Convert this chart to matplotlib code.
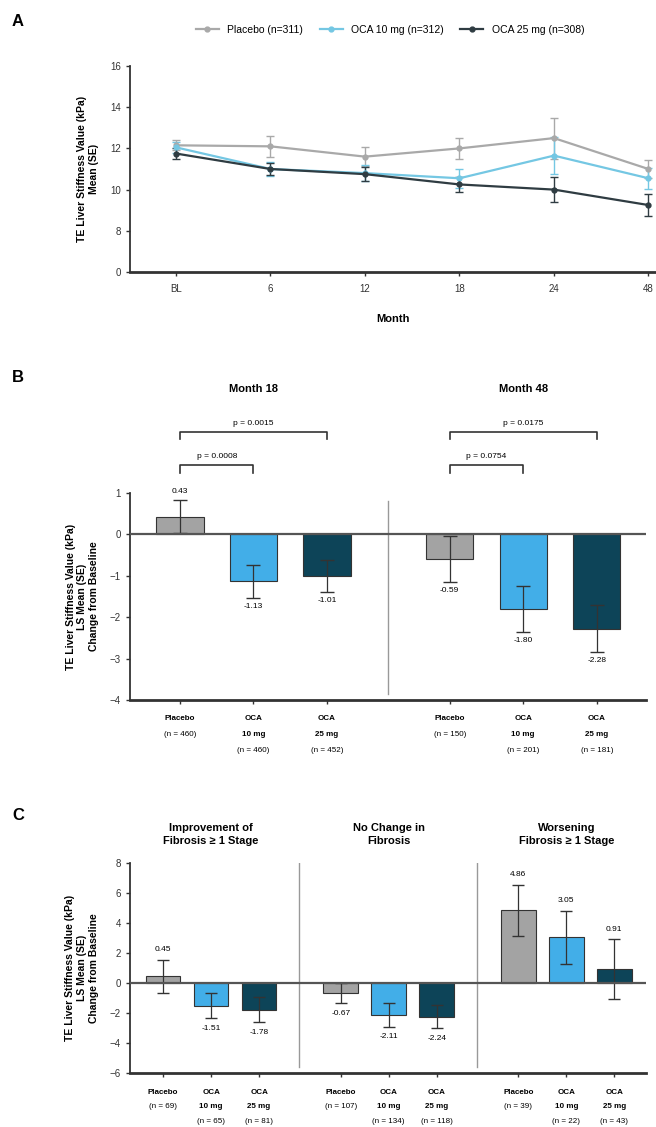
import numpy as np
import matplotlib
matplotlib.use('Agg')
import matplotlib.pyplot as plt
from matplotlib.lines import Line2D

plt.rcParams['font.family'] = ['Liberation Sans', 'DejaVu Sans']

# ---------------- data ----------------
# Panel A
months = ['BL', '6', '12', '18', '24', '48']
series_a = ['Placebo (n=311)', 'OCA 10 mg (n=312)', 'OCA 25 mg (n=308)']
placebo_mean = [12.15, 12.1, 11.6, 12.0, 12.5, 11.0]
placebo_se = [0.25, 0.5, 0.45, 0.5, 1.0, 0.45]
oca10_mean = [12.05, 11.0, 10.8, 10.55, 11.65, 10.55]
oca10_se = [0.25, 0.35, 0.4, 0.45, 0.9, 0.5]
oca25_mean = [11.75, 11.0, 10.75, 10.25, 10.0, 9.25]
oca25_se = [0.25, 0.3, 0.35, 0.35, 0.6, 0.55]

# Panel B
b_groups = ['Month 18', 'Month 48']
b_names = ['Placebo', 'OCA\n10 mg', 'OCA\n25 mg', 'Placebo', 'OCA\n10 mg', 'OCA\n25 mg']
b_n = ['(n = 460)', '(n = 460)', '(n = 452)', '(n = 150)', '(n = 201)', '(n = 181)']
b_values = [0.43, -1.13, -1.01, -0.59, -1.80, -2.28]
b_se = [0.39, 0.40, 0.38, 0.55, 0.56, 0.57]
b_pvals = ['p = 0.0015', 'p = 0.0008', 'p = 0.0175', 'p = 0.0754']

# Panel C
c_groups = ['Improvement of\nFibrosis \u2265 1 Stage', 'No Change in\nFibrosis',
            'Worsening\nFibrosis \u2265 1 Stage']
c_names = ['Placebo', 'OCA\n10 mg', 'OCA\n25 mg'] * 3
c_n = ['(n = 69)', '(n = 65)', '(n = 81)', '(n = 107)', '(n = 134)', '(n = 118)',
       '(n = 39)', '(n = 22)', '(n = 43)']
c_values = [0.45, -1.51, -1.78, -0.67, -2.11, -2.24, 4.86, 3.05, 0.91]
c_se = [1.1, 0.85, 0.85, 0.65, 0.8, 0.75, 1.7, 1.75, 2.0]

# ---------------- style ----------------
col_pl = '#a3a3a3'
col_10 = '#42aee8'
col_25 = '#0d4458'
line_cols = ['#a9a9a9', '#74c7e3', '#2f3c42']
bar_cols = [col_pl, col_10, col_25]

W, H = 656, 1127
fig = plt.figure(figsize=(W / 100, H / 100), dpi=100)


def frac(x0, y0, x1, y1):
    return [x0 / W, 1 - y1 / H, (x1 - x0) / W, (y1 - y0) / H]


def style_axes(ax):
    for s in ['top', 'right']:
        ax.spines[s].set_visible(False)
    ax.spines['left'].set_linewidth(1.3)
    ax.spines['bottom'].set_linewidth(2.0)
    ax.spines['left'].set_color('#333333')
    ax.spines['bottom'].set_color('#333333')
    ax.tick_params(axis='both', labelsize=7, width=1.0, length=3, colors='#333333')


# ---------------- Panel A ----------------
axA = fig.add_axes(frac(130, 66, 656, 272))
style_axes(axA)


def fwd(v):
    v = np.asarray(v, dtype=float)
    return np.where(v < 8, v / 4.0, v - 6.0)


def inv(p):
    p = np.asarray(p, dtype=float)
    return np.where(p < 2, p * 4.0, p + 6.0)


axA.set_yscale('function', functions=(fwd, inv))
xa = np.arange(len(months))
for mean, se, c, lab in zip([placebo_mean, oca10_mean, oca25_mean],
                            [placebo_se, oca10_se, oca25_se], line_cols, series_a):
    axA.errorbar(xa, mean, yerr=se, color=c, lw=1.6, marker='o', ms=3.5,
                 capsize=3, elinewidth=1.0, label=lab)
axA.set_ylim(0, 16)
axA.set_yticks([0, 8, 10, 12, 14, 16])
axA.set_yticklabels(['0', '8', '10', '12', '14', '16'])
axA.set_xlim(-0.487, 5.08)
axA.set_xticks(xa)
axA.set_xticklabels(months)
axA.tick_params(axis='x', pad=6)
axA.set_xlabel('Month', fontsize=8, fontweight='bold', labelpad=14)
axA.set_ylabel('TE Liver Stiffness Value (kPa)\nMean (SE)', fontsize=7.5,
               fontweight='bold', labelpad=8)
handles = [Line2D([0], [0], color=c, lw=1.6, marker='o', ms=3.5) for c in line_cols]
fig.legend(handles, series_a, loc='center', bbox_to_anchor=(390 / W, 1 - 30 / H),
           ncol=3, frameon=False, fontsize=7.5, handlelength=2.2, columnspacing=1.6)
fig.text(12 / W, 1 - 22 / H, 'A', fontsize=12, fontweight='bold', va='center')

# ---------------- Panel B ----------------
axB = fig.add_axes(frac(130, 493, 646, 700))
style_axes(axB)
xb = np.array([0, 1, 2, 3.67, 4.67, 5.67])
axB.bar(xb, b_values, width=0.64, color=bar_cols * 2, edgecolor='#333333', lw=0.8,
        zorder=2)
axB.errorbar(xb, b_values, yerr=b_se, fmt='none', ecolor='#333333', elinewidth=0.9,
             capsize=5, zorder=3)
axB.axhline(0, color='#555555', lw=1.6, zorder=4)
axB.set_ylim(-4, 1)
axB.set_yticks([-4, -3, -2, -1, 0, 1])
axB.set_xlim(-0.68, 6.34)
axB.set_xticks(xb)
axB.set_xticklabels([])
axB.axvline(2.83, ymin=0.03, ymax=(0.8 + 4) / 5, color='#999999', lw=1.0)
for x, v, s in zip(xb, b_values, b_se):
    if v >= 0:
        axB.text(x, v + s + 0.12, f'{v:.2f}', ha='center', va='bottom', fontsize=6)
    else:
        axB.text(x, v - s - 0.12, f'{v:.2f}', ha='center', va='top', fontsize=6)
for x, nm, n in zip(xb, b_names, b_n):
    lines = nm.split('\n') + [n]
    for i, t in enumerate(lines):
        axB.annotate(t, xy=(x, 0), xycoords=('data', 'axes fraction'),
                     xytext=(0, -13 - 11.5 * i), textcoords='offset points',
                     ha='center', va='center', fontsize=5.8,
                     fontweight='normal' if t.startswith('(') else 'bold')
# group titles
for gx, g in zip([xb[1], xb[4]], b_groups):
    axB.text(gx, 3.5, g, ha='center', va='center', fontsize=8, fontweight='bold',
             clip_on=False)
# significance brackets
brackets = [(xb[0], xb[2], 2.48, b_pvals[0]), (xb[0], xb[1], 1.67, b_pvals[1]),
            (xb[3], xb[5], 2.48, b_pvals[2]), (xb[3], xb[4], 1.67, b_pvals[3])]
for x0, x1, y, p in brackets:
    axB.plot([x0, x0, x1, x1], [y - 0.18, y, y, y - 0.18], color='#333333', lw=1.2,
             clip_on=False)
    axB.text((x0 + x1) / 2, y + 0.12, p, ha='center', va='bottom', fontsize=6,
             clip_on=False)
axB.set_ylabel('TE Liver Stiffness Value (kPa)\nLS Mean (SE)\nChange from Baseline',
               fontsize=7.5, fontweight='bold', labelpad=8)
fig.text(12 / W, 1 - 378 / H, 'B', fontsize=12, fontweight='bold', va='center')

# ---------------- Panel C ----------------
axC = fig.add_axes(frac(130, 863, 646, 1073))
style_axes(axC)
xc = np.array([0, 1, 2, 3.7, 4.7, 5.7, 7.4, 8.4, 9.4])
axC.bar(xc, c_values, width=0.72, color=bar_cols * 3, edgecolor='#333333', lw=0.8,
        zorder=2)
axC.errorbar(xc, c_values, yerr=c_se, fmt='none', ecolor='#333333', elinewidth=0.9,
             capsize=4, zorder=3)
axC.axhline(0, color='#555555', lw=1.6, zorder=4)
axC.set_ylim(-6, 8)
axC.set_yticks([-6, -4, -2, 0, 2, 4, 6, 8])
axC.set_xlim(-0.69, 10.06)
axC.set_xticks(xc)
axC.set_xticklabels([])
for dx in [2.83, 6.54]:
    axC.axvline(dx, ymin=0.03, ymax=1.0, color='#999999', lw=1.0)
for x, v, s in zip(xc, c_values, c_se):
    if v >= 0:
        axC.text(x, v + s + 0.45, f'{v:.2f}', ha='center', va='bottom', fontsize=6)
    else:
        axC.text(x, v - s - 0.45, f'{v:.2f}', ha='center', va='top', fontsize=6)
for x, nm, n in zip(xc, c_names, c_n):
    lines = nm.split('\n') + [n]
    for i, t in enumerate(lines):
        axC.annotate(t, xy=(x, 0), xycoords=('data', 'axes fraction'),
                     xytext=(0, -14 - 10.3 * i), textcoords='offset points',
                     ha='center', va='center', fontsize=5.8,
                     fontweight='normal' if t.startswith('(') else 'bold')
for gx, g in zip([xc[1], xc[4], xc[7]], c_groups):
    axC.text(gx, 9.9, g, ha='center', va='center', fontsize=8, fontweight='bold',
             clip_on=False, linespacing=1.4)
axC.set_ylabel('TE Liver Stiffness Value (kPa)\nLS Mean (SE)\nChange from Baseline',
               fontsize=7.5, fontweight='bold', labelpad=8)
fig.text(12 / W, 1 - 815 / H, 'C', fontsize=12, fontweight='bold', va='center')

fig.savefig('out.png', dpi=100)
